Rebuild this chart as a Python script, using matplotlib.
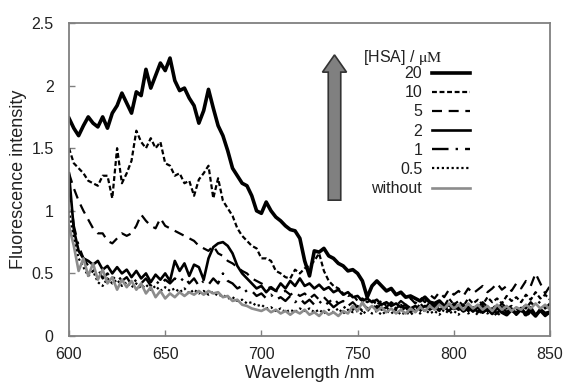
import numpy as np
import matplotlib
matplotlib.use("Agg")
import matplotlib.pyplot as plt
from matplotlib.patches import FancyArrow

plt.rcParams['font.family'] = ['Liberation Sans', 'DejaVu Sans']
plt.rcParams['mathtext.fontset'] = 'stix'

# wavelength grid (nm), 2.5 nm step
wavelength = [600 + 2.5 * i for i in range(101)]

hsa_20 = [1.74, 1.66, 1.60, 1.68, 1.75, 1.70, 1.67, 1.75, 1.66, 1.78,
          1.84, 1.94, 1.86, 1.78, 1.95, 1.92, 2.13, 1.98, 2.08, 2.18,
          2.12, 2.22, 2.04, 1.96, 1.98, 1.90, 1.84, 1.70, 1.80, 1.97,
          1.82, 1.68, 1.60, 1.48, 1.34, 1.28, 1.22, 1.20, 1.12, 1.00,
          0.98, 1.07, 1.00, 0.95, 0.92, 0.88, 0.85, 0.84, 0.78, 0.60,
          0.48, 0.68, 0.67, 0.70, 0.64, 0.62, 0.58, 0.56, 0.52, 0.53,
          0.50, 0.44, 0.31, 0.40, 0.44, 0.40, 0.36, 0.38, 0.33, 0.35,
          0.31, 0.32, 0.30, 0.28, 0.31, 0.27, 0.26, 0.28, 0.24, 0.25,
          0.22, 0.24, 0.20, 0.23, 0.20, 0.24, 0.19, 0.22, 0.18, 0.23,
          0.19, 0.17, 0.21, 0.18, 0.22, 0.17, 0.20, 0.16, 0.21, 0.18,
          0.19]

hsa_10 = [1.50, 1.38, 1.34, 1.30, 1.24, 1.22, 1.20, 1.28, 1.28, 1.10,
          1.50, 1.22, 1.30, 1.40, 1.64, 1.55, 1.50, 1.58, 1.50, 1.55,
          1.38, 1.36, 1.28, 1.30, 1.22, 1.24, 1.12, 1.25, 1.30, 1.36,
          1.10, 1.26, 1.08, 1.02, 0.96, 0.86, 0.80, 0.76, 0.72, 0.70,
          0.62, 0.62, 0.60, 0.52, 0.50, 0.47, 0.46, 0.53, 0.50, 0.54,
          0.56, 0.60, 0.66, 0.52, 0.44, 0.40, 0.38, 0.34, 0.32, 0.33,
          0.28, 0.30, 0.27, 0.29, 0.25, 0.28, 0.24, 0.26, 0.22, 0.25,
          0.21, 0.24, 0.20, 0.26, 0.22, 0.27, 0.23, 0.28, 0.24, 0.30,
          0.25, 0.28, 0.24, 0.30, 0.26, 0.29, 0.25, 0.31, 0.27, 0.30,
          0.26, 0.32, 0.28, 0.31, 0.27, 0.33, 0.29, 0.35, 0.30, 0.33,
          0.29]

hsa_5 = [1.30, 1.18, 1.08, 1.00, 0.93, 0.86, 0.82, 0.82, 0.76, 0.74,
         0.78, 0.82, 0.80, 0.82, 0.88, 0.97, 0.92, 0.88, 0.86, 0.94,
         0.88, 0.86, 0.84, 0.82, 0.80, 0.78, 0.76, 0.72, 0.70, 0.68,
         0.72, 0.66, 0.64, 0.60, 0.58, 0.55, 0.52, 0.50, 0.46, 0.44,
         0.42, 0.40, 0.38, 0.36, 0.35, 0.36, 0.33, 0.35, 0.32, 0.34,
         0.30, 0.33, 0.29, 0.31, 0.27, 0.30, 0.26, 0.28, 0.24, 0.27,
         0.23, 0.26, 0.22, 0.25, 0.22, 0.26, 0.23, 0.27, 0.24, 0.28,
         0.25, 0.30, 0.26, 0.31, 0.27, 0.33, 0.30, 0.35, 0.31, 0.37,
         0.33, 0.36, 0.32, 0.38, 0.34, 0.37, 0.40, 0.35, 0.38, 0.42,
         0.37, 0.40, 0.36, 0.42, 0.38, 0.44, 0.40, 0.50, 0.42, 0.34,
         0.40]

hsa_2 = [1.30, 0.85, 0.68, 0.62, 0.60, 0.57, 0.60, 0.53, 0.56, 0.50,
         0.55, 0.50, 0.53, 0.47, 0.52, 0.46, 0.50, 0.43, 0.49, 0.45,
         0.50, 0.44, 0.60, 0.52, 0.58, 0.48, 0.57, 0.55, 0.45, 0.62,
         0.71, 0.74, 0.75, 0.72, 0.66, 0.56, 0.50, 0.46, 0.42, 0.38,
         0.40, 0.35, 0.39, 0.36, 0.42, 0.38, 0.44, 0.40, 0.46, 0.40,
         0.42, 0.38, 0.41, 0.37, 0.39, 0.35, 0.37, 0.33, 0.35, 0.31,
         0.32, 0.28, 0.30, 0.27, 0.29, 0.25, 0.27, 0.24, 0.26, 0.23,
         0.25, 0.22, 0.24, 0.21, 0.24, 0.22, 0.25, 0.21, 0.23, 0.20,
         0.24, 0.21, 0.25, 0.20, 0.23, 0.19, 0.24, 0.20, 0.22, 0.18,
         0.23, 0.19, 0.22, 0.17, 0.21, 0.18, 0.23, 0.17, 0.20, 0.16,
         0.19]

hsa_1 = [1.20, 0.88, 0.72, 0.62, 0.56, 0.52, 0.54, 0.46, 0.50, 0.45,
         0.49, 0.44, 0.47, 0.41, 0.45, 0.42, 0.46, 0.40, 0.44, 0.41,
         0.45, 0.42, 0.46, 0.43, 0.47, 0.42, 0.46, 0.40, 0.44, 0.41,
         0.46, 0.42, 0.50, 0.44, 0.42, 0.38, 0.40, 0.35, 0.36, 0.32,
         0.34, 0.30, 0.33, 0.29, 0.31, 0.28, 0.32, 0.27, 0.30, 0.26,
         0.29, 0.25, 0.28, 0.24, 0.27, 0.23, 0.26, 0.22, 0.25, 0.21,
         0.24, 0.20, 0.23, 0.20, 0.24, 0.21, 0.23, 0.19, 0.22, 0.20,
         0.23, 0.19, 0.22, 0.20, 0.24, 0.21, 0.23, 0.20, 0.24, 0.21,
         0.26, 0.22, 0.25, 0.21, 0.24, 0.22, 0.27, 0.23, 0.25, 0.21,
         0.26, 0.22, 0.24, 0.20, 0.25, 0.22, 0.27, 0.23, 0.28, 0.22,
         0.26]

hsa_05 = [1.00, 0.78, 0.62, 0.55, 0.48, 0.52, 0.43, 0.40, 0.46, 0.42,
          0.45, 0.40, 0.43, 0.39, 0.42, 0.38, 0.41, 0.37, 0.40, 0.36,
          0.39, 0.36, 0.38, 0.35, 0.38, 0.34, 0.37, 0.34, 0.36, 0.33,
          0.35, 0.32, 0.33, 0.30, 0.31, 0.28, 0.29, 0.26, 0.27, 0.24,
          0.25, 0.22, 0.23, 0.20, 0.22, 0.19, 0.21, 0.19, 0.22, 0.20,
          0.22, 0.19, 0.21, 0.18, 0.21, 0.19, 0.22, 0.18, 0.21, 0.19,
          0.20, 0.17, 0.21, 0.18, 0.20, 0.17, 0.20, 0.18, 0.21, 0.17,
          0.19, 0.17, 0.20, 0.18, 0.21, 0.18, 0.20, 0.17, 0.21, 0.18,
          0.20, 0.17, 0.22, 0.18, 0.20, 0.17, 0.21, 0.18, 0.20, 0.16,
          0.20, 0.17, 0.21, 0.18, 0.20, 0.16, 0.19, 0.17, 0.21, 0.18,
          0.20]

without = [0.88, 0.72, 0.52, 0.62, 0.48, 0.58, 0.45, 0.53, 0.42, 0.47,
           0.37, 0.45, 0.39, 0.44, 0.37, 0.42, 0.34, 0.39, 0.31, 0.36,
           0.30, 0.34, 0.31, 0.35, 0.32, 0.35, 0.33, 0.36, 0.33, 0.36,
           0.34, 0.35, 0.31, 0.32, 0.28, 0.29, 0.25, 0.24, 0.22, 0.21,
           0.20, 0.22, 0.19, 0.21, 0.18, 0.20, 0.17, 0.20, 0.18, 0.21,
           0.17, 0.19, 0.16, 0.20, 0.17, 0.19, 0.16, 0.20, 0.18, 0.24,
           0.20, 0.27, 0.21, 0.24, 0.20, 0.23, 0.19, 0.22, 0.18, 0.21,
           0.18, 0.22, 0.19, 0.23, 0.20, 0.24, 0.21, 0.25, 0.22, 0.26,
           0.22, 0.25, 0.21, 0.26, 0.22, 0.25, 0.21, 0.24, 0.20, 0.25,
           0.21, 0.24, 0.20, 0.23, 0.21, 0.25, 0.22, 0.26, 0.22, 0.25,
           0.21]

labels = ['20', '10', '5', '2', '1', '0.5', 'without']
x_ticks = [600, 650, 700, 750, 800, 850]
y_ticks = [0, 0.5, 1, 1.5, 2, 2.5]
y_tick_labels = ['0', '0.5', '1', '1.5', '2', '2.5']

series = [hsa_20, hsa_10, hsa_5, hsa_2, hsa_1, hsa_05, without]
for s in series:
    assert len(s) == len(wavelength), len(s)

styles = [
    dict(color='black', lw=2.6, ls='-'),
    dict(color='black', lw=1.6, ls=(0, (2.2, 1.2))),
    dict(color='black', lw=1.6, ls=(0, (4.5, 3))),
    dict(color='black', lw=1.9, ls='-'),
    dict(color='black', lw=1.7, ls=(0, (7, 3, 1, 3))),
    dict(color='black', lw=1.6, ls=(0, (1, 1.2))),
    dict(color='#8c8c8c', lw=1.9, ls='-'),
]

fig = plt.figure(figsize=(5.66, 3.89), dpi=100)
ax = fig.add_axes([0.1219, 0.1362, 0.8498, 0.8047])

handles = []
for s, st, lab in zip(series, styles, labels):
    h, = ax.plot(wavelength, s, label=lab, solid_joinstyle='round', **st)
    handles.append(h)

ax.set_xlim(600, 850)
ax.set_ylim(0, 2.5)
ax.set_xticks(x_ticks)
ax.set_yticks(y_ticks)
ax.set_yticklabels(y_tick_labels)
ax.tick_params(axis='both', direction='in', length=4, width=1, color='#808080',
               labelsize=11.5, labelcolor='#222222')
ax.tick_params(axis='x', pad=8)
ax.tick_params(axis='y', pad=11)
for sp in ax.spines.values():
    sp.set_color('#808080')
    sp.set_linewidth(1.3)

ax.set_xlabel('Wavelength /nm', fontsize=13, color='#222222', labelpad=2)
ax.set_ylabel('Fluorescence intensity', fontsize=13, color='#222222', labelpad=3)

leg = ax.legend(handles=handles, loc='upper right', bbox_to_anchor=(0.834, 0.862),
                frameon=False, markerfirst=False, fontsize=11.5,
                handlelength=2.4, handletextpad=0.6, labelspacing=0.26,
                borderpad=0, borderaxespad=0)
for col in leg._legend_handle_box.get_children():
    col.align = 'right'
for t in leg.get_texts():
    t.set_color('#222222')

ax.text(0.611, 0.89, r'[HSA] / $\mathrm{\mu M}$', transform=ax.transAxes,
        fontsize=11.5, ha='left', va='center', color='#222222')

arrow = FancyArrow(0.552, 0.434, 0, 0.464, width=0.026, head_width=0.05,
                   head_length=0.055, length_includes_head=True,
                   transform=ax.transAxes, facecolor='#808080',
                   edgecolor='#333333', lw=1.2)
ax.add_patch(arrow)

fig.savefig('out.png', dpi=100)
